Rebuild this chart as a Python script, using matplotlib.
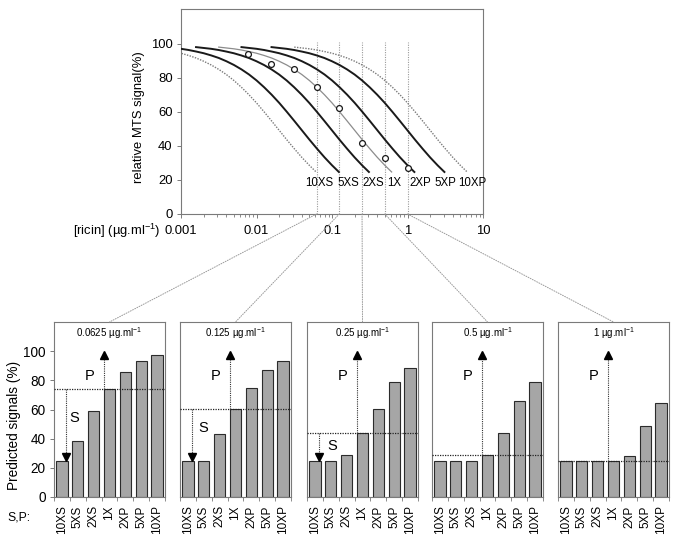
import matplotlib
matplotlib.use("Agg")
import numpy as np
import matplotlib.pyplot as plt
from matplotlib.patches import ConnectionPatch
from matplotlib.ticker import FixedLocator, FixedFormatter, LogLocator, NullFormatter

plt.rcParams.update({"font.family": ["Liberation Sans", "DejaVu Sans"],
                     "mathtext.default": "regular", "axes.linewidth": 0.8,
                     "axes.edgecolor": "#7a7a7a", "xtick.color": "#7a7a7a",
                     "ytick.color": "#7a7a7a", "xtick.labelcolor": "black",
                     "ytick.labelcolor": "black"})

# 1X dose-response curve (log10 [ricin] -> signal %)
CURVE_LOGX = [-2.5, -2.4, -2.3, -2.2, -2.1, -2.0, -1.9, -1.8, -1.7, -1.6, -1.5, -1.4,
              -1.3, -1.2, -1.1, -1.0, -0.9, -0.8, -0.7, -0.6, -0.5, -0.4, -0.3, -0.21]
CURVE_Y = [98.1, 97.6, 97.1, 96.4, 95.5, 94.5, 93.2, 91.7, 89.8, 87.6, 85.0, 82.0,
           78.5, 74.5, 70.1, 65.3, 60.1, 54.7, 49.2, 43.7, 38.4, 33.3, 28.6, 24.7]

STRAINS = ["10XS", "5XS", "2XS", "1X", "2XP", "5XP", "10XP"]
FOLD = [0.1, 0.2, 0.5, 1, 2, 5, 10]          # sensitivity shift of each curve vs 1X
STYLE = ["dot", "thick", "thick", "thin", "thick", "thick", "dot"]
LABEL_X = [0.068, 0.163, 0.349, 0.662, 1.46, 3.14, 7.26]   # curve-name positions

# measured points (open circles)
PTS_X = [0.0078, 0.0156, 0.03125, 0.0625, 0.125, 0.25, 0.5, 1]
PTS_Y = [93.9, 88.2, 85.3, 74.7, 62.2, 41.9, 33.1, 26.9]

CONCS = [0.0625, 0.125, 0.25, 0.5, 1]
CONC_LBL = ["0.0625", "0.125", "0.25", "0.5", "1"]

# predicted signals per concentration (order as STRAINS)
BARS_0625 = [24.7, 38.6, 59.3, 74.4, 85.6, 93.6, 97.5]
BARS_125 = [24.7, 24.7, 43.4, 60.3, 74.6, 87.4, 93.4]
BARS_25 = [24.7, 24.7, 28.8, 43.6, 60.5, 78.8, 88.6]
BARS_5 = [24.7, 24.7, 24.7, 28.8, 43.6, 65.8, 78.8]
BARS_1 = [24.7, 24.7, 24.7, 24.7, 27.8, 48.4, 64.8]
BARS = [BARS_0625, BARS_125, BARS_25, BARS_5, BARS_1]

SHOW_S = [True, True, True, False, False]
S_LABEL = [(0.8, 54), (0.95, 47), (1.06, 35), None, None]

fig = plt.figure(figsize=(6.78, 5.43), dpi=100)
W, H = 678, 543

# ── top: dose-response curves ─────────────────────────────────────────────────
ax = fig.add_axes([181 / W, 1 - 214 / H, 302 / W, 205 / H])
ax.set_xscale("log")
ax.set_xlim(0.001, 10); ax.set_ylim(0, 120.5)
ax.vlines(CONCS, 0, 101, colors="#9a9a9a", linestyles=(0, (1, 1.2)), lw=0.8, zorder=1)

xbase = 10 ** np.array(CURVE_LOGX)
for name, f, st, lx in zip(STRAINS, FOLD, STYLE, LABEL_X):
    xs = xbase * f
    if st == "thick":
        ax.plot(xs, CURVE_Y, color="#1a1a1a", lw=1.4, zorder=3)
    elif st == "thin":
        ax.plot(xs, CURVE_Y, color="#8c8c8c", lw=0.9, zorder=3)
    else:
        ax.plot(xs, CURVE_Y, color="#7a7a7a", lw=1.0, ls=(0, (1, 1)), zorder=3)
    ax.text(lx, 18, name, ha="center", va="center", fontsize=8.3)

ax.plot(PTS_X, PTS_Y, "o", ms=4.2, mfc="white", mec="#1a1a1a", mew=0.9, zorder=4)

ax.xaxis.set_major_locator(FixedLocator([0.001, 0.01, 0.1, 1, 10]))
ax.xaxis.set_major_formatter(FixedFormatter(["0.001", "0.01", "0.1", "1", "10"]))
ax.xaxis.set_minor_locator(LogLocator(base=10, subs=np.arange(2, 10)))
ax.xaxis.set_minor_formatter(NullFormatter())
ax.set_yticks([0, 20, 40, 60, 80, 100])
ax.tick_params(axis="both", which="major", length=3, width=0.7, labelsize=9.4, pad=3)
ax.tick_params(axis="x", which="major", pad=5)
ax.tick_params(axis="x", which="minor", length=2, width=0.6)
fig.text(160 / W, 1 - 231 / H, "[ricin] (µg.ml$^{-1}$)", ha="right", va="center", fontsize=9.4)
fig.text(139 / W, 1 - 117.5 / H, "relative MTS signal(%)", rotation=90,
         ha="center", va="center", fontsize=9.4)

# ── bottom: predicted signals at each concentration ───────────────────────────
lefts = [54, 180, 307, 432, 558]
pos = np.arange(len(STRAINS))
for i, (c, lbl, vals) in enumerate(zip(CONCS, CONC_LBL, BARS)):
    axb = fig.add_axes([lefts[i] / W, 1 - 497 / H, 111 / W, 175 / H])
    axb.bar(pos, vals, width=0.72, color="#a6a6a6", edgecolor="#2b2b2b", lw=0.8, zorder=2)
    axb.set_xlim(-0.5, 6.5); axb.set_ylim(0, 120)
    ref = vals[3]
    axb.axhline(ref, color="#222", lw=0.9, ls=(0, (1, 1)), zorder=3)
    # P arrow from 1X up
    xp = 2.63
    axb.plot([xp, xp], [ref, 97.5], color="#333", lw=0.8, ls=(0, (1, 1)), zorder=3)
    axb.plot(xp, 97.5, marker="^", ms=5.5, color="black", zorder=4)
    axb.text(1.72, 83, "P", ha="center", va="center", fontsize=10.5)
    if SHOW_S[i]:
        xs_ = 0.28
        axb.plot([xs_, xs_], [ref, vals[0] + 2.5], color="#333", lw=0.8, ls=(0, (1, 1)), zorder=3)
        axb.plot(xs_, vals[0] + 2.5, marker="v", ms=5.5, color="black", zorder=4)
        axb.text(S_LABEL[i][0], S_LABEL[i][1], "S", ha="center", va="center", fontsize=10.5)
    axb.text(3, 112.5, f"{lbl} µg.ml$^{{-1}}$", ha="center", va="center", fontsize=7)

    axb.set_xticks(np.arange(-0.5, 7, 1))
    axb.set_xticklabels([])
    axb.set_xticks(pos, minor=True)
    axb.set_xticklabels(STRAINS, minor=True, rotation=90, fontsize=8.5)
    axb.tick_params(axis="x", which="major", length=3, width=0.6)
    axb.tick_params(axis="x", which="minor", length=0, pad=6)
    if i == 0:
        axb.set_yticks([0, 20, 40, 60, 80, 100])
        axb.tick_params(axis="y", length=3, width=0.7, labelsize=9.8, pad=3)
    else:
        axb.set_yticks([])

    con = ConnectionPatch(xyA=(c, 0), coordsA=ax.transData, xyB=(0.5, 1),
                          coordsB=axb.transAxes, color="#9a9a9a", lw=0.7,
                          ls=(0, (1, 1.5)))
    fig.add_artist(con)

fig.text(14 / W, 1 - 425.5 / H, "Predicted signals (%)", rotation=90,
         ha="center", va="center", fontsize=9.8)
fig.text(19 / W, 1 - 518 / H, "S,P:", ha="center", va="center", fontsize=8.8)

fig.savefig("out.png", dpi=100, facecolor="white")
